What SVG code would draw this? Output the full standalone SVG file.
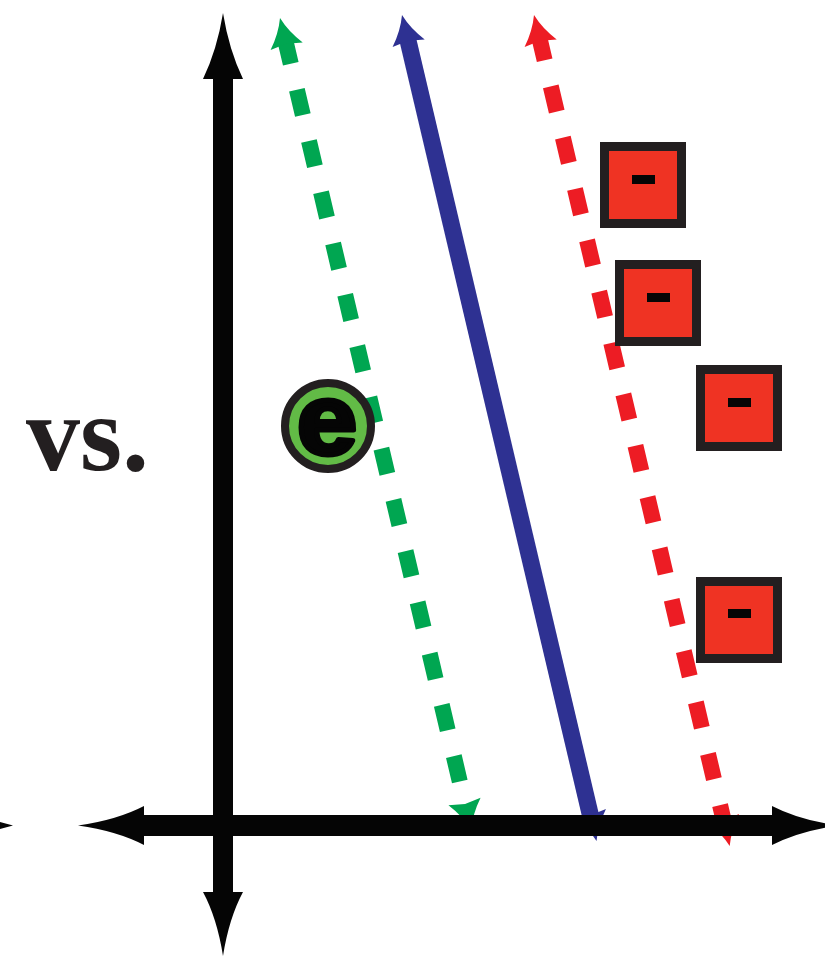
<svg xmlns="http://www.w3.org/2000/svg" xmlns:xlink="http://www.w3.org/1999/xlink" width="825" height="957" viewBox="0 0 825 957">
<style>
.axis{fill:#050505}
.g{fill:#00A651}
.gl{stroke:#00A651;stroke-width:16;fill:none;stroke-dasharray:26 26.67}
.r{fill:#ED1C24}
.rl{stroke:#ED1C24;stroke-width:16;fill:none;stroke-dasharray:26 26.75}
.b{fill:#2E3192}
.bl{stroke:#2E3192;stroke-width:17;fill:none}
.sq{fill:#EF3323;stroke:#231F20;stroke-width:9}
.minus{fill:#050505}
</style>
<defs>
<path id="head" d="M0,0 Q5,15 16.5,29 L0,26.5 L-16.5,29 Q-5,15 0,0 Z"/>
</defs>
<rect width="825" height="957" fill="#ffffff"/>
<g id="connectors">
  <g id="green-line" transform="translate(280,18) rotate(-13.25)">
    <path class="gl" d="M0,21 V785"/>
    <use xlink:href="#head" class="g"/>
    <use xlink:href="#head" class="g" transform="translate(0,834) scale(1,-1)"/>
  </g>
  <g id="blue-line" transform="translate(402,15) rotate(-13.25)">
    <path class="bl" d="M0,22 V828"/>
    <use xlink:href="#head" class="b"/>
    <use xlink:href="#head" class="b" transform="translate(0,848.7) scale(1,-1)"/>
  </g>
  <g id="red-line" transform="translate(534,15) rotate(-13.25)">
    <path class="rl" d="M0,20.5 V826"/>
    <use xlink:href="#head" class="r"/>
    <use xlink:href="#head" class="r" transform="translate(0,853.8) scale(1,-1)"/>
  </g>
  <g id="axes" class="axis">
    <rect x="213" y="76" width="20" height="820"/>
    <rect x="140" y="815" width="636" height="21"/>
    <path d="M223,13 Q217,50 203,79 L243,79 Q229,50 223,13 Z"/>
    <path d="M223,956 Q217,918 203,892 L243,892 Q229,918 223,956 Z"/>
    <path d="M78,825.5 Q117,820 144,806 L144,845 Q117,831 78,825.5 Z"/>
    <path d="M838,825.5 Q799,820 772,806 L772,845 Q799,831 838,825.5 Z"/>
    <path d="M0,822 L13,825.5 L0,829 Z"/>
  </g>
</g>
<g id="label-vs">
  <text x="26" y="470" font-family="'Liberation Serif', serif" font-weight="bold" font-size="108" fill="#231F20">vs.</text>
</g>
<g id="electron">
  <circle cx="328" cy="426" r="43" fill="#62BB46" stroke="#231F20" stroke-width="8"/>
  <text transform="translate(327,454) scale(1.08,1)" text-anchor="middle" font-family="'Liberation Sans', sans-serif" font-weight="bold" font-size="100" fill="#050505" stroke="#050505" stroke-width="5" stroke-linejoin="round">e</text>
</g>
<g id="neg1">
  <rect class="sq" x="604.5" y="146.5" width="77" height="77"/>
  <rect class="minus" x="632" y="175" width="23" height="9"/>
</g>
<g id="neg2">
  <rect class="sq" x="619.5" y="264.5" width="77" height="77"/>
  <rect class="minus" x="647" y="293" width="23" height="9"/>
</g>
<g id="neg3">
  <rect class="sq" x="700.5" y="369.5" width="77" height="77"/>
  <rect class="minus" x="728" y="398" width="23" height="9"/>
</g>
<g id="neg4">
  <rect class="sq" x="700.5" y="581.5" width="77" height="77"/>
  <rect class="minus" x="728" y="609" width="23" height="9"/>
</g>
</svg>
